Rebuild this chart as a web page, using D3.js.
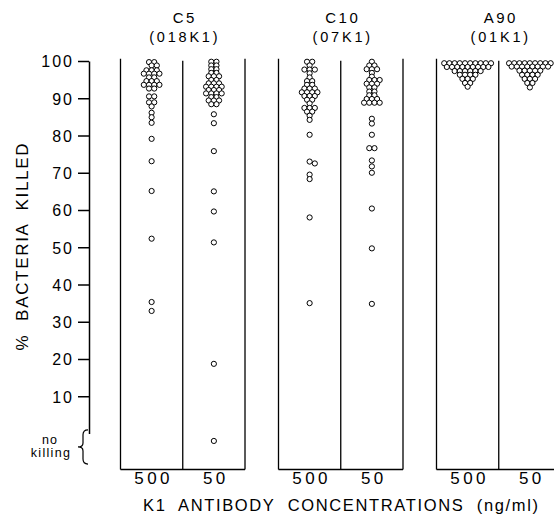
<!DOCTYPE html>
<html><head><meta charset="utf-8">
<script src="https://cdn.jsdelivr.net/npm/d3@7/dist/d3.min.js"></script>
<style>body{margin:0;background:#fff}svg{display:block}</style>
</head><body>
<svg id="chart" width="554" height="520"></svg>
<script>
// ---------- data ----------
const panels = ["C5", "C10", "A90"];
const strains = ["(018K1)", "(07K1)", "(01K1)"];
const doses = ["500", "50"];
const yTicks = [10, 20, 30, 40, 50, 60, 70, 80, 90, 100];
const NK = "no killing";
const xTitle = "K1  ANTIBODY  CONCENTRATIONS  (ng/ml)";
const yTitle = "%  BACTERIA  KILLED";

const c5_500 = [99.7,99.7, 98.8,98.8, 97.5,97.5,97.5, 96.6,96.6,96.6,96.6, 95.6,95.6,
  94.6,94.6,94.6, 93.6,93.6,93.6,93.6, 92.6,92.6, 90.5,90.5, 88.9,88.9, 87.8, 86.1,
  84.9, 83.4, 79.1, 73.1, 65.1, 52.3, 35.3, 32.9];
const c5_50 = [99.8,99.8, 98.8,98.8, 97.8,97.8, 96.8,96.8, 95.9,95.9,95.9, 94.9,94.9,
  94.0,94.0,94.0, 93.1,93.1,93.1,93.1, 92.2,92.2,92.2, 91.3,91.3,91.3,91.3, 90.3,90.3,
  89.4,89.4,89.4, 88.4,88.4, 85.7, 83.3, 75.8, 65.0, 59.6, 51.3, 18.7, NK];
const c10_500 = [99.8,99.8, 98.8, 97.7,97.7,97.7, 96.7, 95.6, 94.6,94.6, 93.6,93.6,
  92.6,92.6,92.6, 91.6,91.6,91.6,91.6, 90.6,90.6,90.6, 89.6,89.6, 88.6, 87.4,87.4,87.4,
  86.4,86.4, 85.3, 84.2, 80.2, 73.0, 72.5, 69.5, 68.3, 58.0, 35.0];
const c10_50 = [99.8, 98.8,98.8, 97.8,97.8,97.8, 96.8, 95.8, 94.9,94.9,94.9,
  93.9,93.9,93.9, 92.9,92.9, 91.8,91.8, 90.8,90.8, 89.8,89.8,89.8, 88.8,88.8,88.8,88.8,
  84.5, 83.2, 80.2, 76.6,76.6, 73.3, 71.7, 70.0, 60.4, 49.7, 34.8];
const a90_500 = [99.4,99.4,99.4,99.4,99.4,99.4,99.4,99.4,99.4,99.4,
  98.4,98.4,98.4,98.4,98.4,98.4,98.4,98.4,98.4, 97.3,97.3,97.3,97.3,97.3,97.3,
  96.3,96.3,96.3,96.3, 95.2,95.2,95.2, 94.1,94.1, 93.1];
const a90_50 = [99.4,99.4,99.4,99.4,99.4,99.4,99.4,99.4,99.4,
  98.5,98.5,98.5,98.5,98.5,98.5,98.5,98.5, 97.4,97.4,97.4,97.4,97.4,
  96.3,96.3,96.3,96.3, 95.2,95.2,95.2, 94.1,94.1, 92.9];

const series = [
  {panel: "C5", dose: "500", values: c5_500},
  {panel: "C5", dose: "50", values: c5_50},
  {panel: "C10", dose: "500", values: c10_500},
  {panel: "C10", dose: "50", values: c10_50},
  {panel: "A90", dose: "500", values: a90_500},
  {panel: "A90", dose: "50", values: a90_50}
];

// ---------- layout ----------
const FONT = "'Liberation Sans', Arial, sans-serif";
const svg = d3.select("#chart");
svg.append("rect").attr("width", 554).attr("height", 520).attr("fill", "#fff");

const y = d3.scaleLinear().domain([0, 100]).range([433.5, 61]);
const NK_LEVEL = -2;
const yv = v => v === NK ? y(NK_LEVEL) : y(v);
const frameTop = y(100.6), frameBottom = 469.5;

const xPanel = d3.scaleBand().domain(panels).range([120.5, 561]).paddingInner(0.212).paddingOuter(0);
const xDose = d3.scaleBand().domain(doses).range([0, xPanel.bandwidth()]);

// y axis
const axis = svg.append("g").attr("transform", "translate(89,0)")
  .call(d3.axisLeft(y).tickValues(yTicks).tickSize(11).tickSizeOuter(0).tickPadding(4));
axis.select(".domain").attr("stroke", "#000").attr("stroke-width", 1.5);
axis.selectAll(".tick line").attr("stroke", "#000").attr("stroke-width", 1.5);
axis.selectAll(".tick text").attr("font-family", FONT).attr("font-size", 16)
  .attr("letter-spacing", 2).attr("fill", "#000").attr("dy", "0.36em");

// y title
svg.append("text").attr("transform", `translate(28,247) rotate(-90)`)
  .attr("text-anchor", "middle").attr("font-family", FONT).attr("font-size", 17)
  .style("white-space", "pre").attr("textLength", 207).attr("lengthAdjust", "spacing")
  .text(yTitle);

// no killing label + brace
const bTop = y(1), bBot = y(-8.2), bMid = (bTop + bBot) / 2;
svg.append("path")
  .attr("d", `M88,${bTop} Q83,${bTop} 83,${bTop + 5} L83,${bMid - 4} Q83,${bMid} 78,${bMid} Q83,${bMid} 83,${bMid + 4} L83,${bBot - 5} Q83,${bBot} 88,${bBot}`)
  .attr("fill", "none").attr("stroke", "#000").attr("stroke-width", 1.2);
svg.append("text").attr("x", 50).attr("y", bMid - 2.5).attr("text-anchor", "middle")
  .attr("font-family", FONT).attr("font-size", 12.5).attr("letter-spacing", 1).text("no");
svg.append("text").attr("x", 51).attr("y", bMid + 10.5).attr("text-anchor", "middle")
  .attr("font-family", FONT).attr("font-size", 12.5).attr("letter-spacing", 1.3).text("killing");

// panels
panels.forEach((p, i) => {
  const x0 = xPanel(p), bw = xPanel.bandwidth(), g = svg.append("g");
  const xs = [x0, x0 + xDose.step(), x0 + bw];
  xs.forEach((xx, k) => g.append("line").attr("x1", xx).attr("x2", xx)
    .attr("y1", k === 1 ? frameTop + 2 : frameTop).attr("y2", frameBottom)
    .attr("stroke", "#000").attr("stroke-width", 1.3));
  g.append("line").attr("x1", x0).attr("x2", x0 + bw).attr("y1", frameBottom).attr("y2", frameBottom)
    .attr("stroke", "#000").attr("stroke-width", 1.5);
  const cx = x0 + bw / 2 + 2;
  g.append("text").attr("x", cx).attr("y", 23).attr("text-anchor", "middle")
    .attr("font-family", FONT).attr("font-size", 15).attr("letter-spacing", 2.5).text(p);
  g.append("text").attr("x", cx).attr("y", 42).attr("text-anchor", "middle")
    .attr("font-family", FONT).attr("font-size", 14.5).attr("letter-spacing", 2.8).text(strains[i]);
  doses.forEach(d => {
    g.append("text").attr("x", x0 + xDose(d) + xDose.bandwidth() / 2 + 2).attr("y", 483.5)
      .attr("text-anchor", "middle").attr("font-family", FONT).attr("font-size", 17)
      .attr("letter-spacing", 3.5).text(d);
  });
});

// x title
svg.append("text").attr("x", 143).attr("y", 511).attr("font-family", FONT).attr("font-size", 16.5)
  .style("white-space", "pre").attr("textLength", 395).attr("lengthAdjust", "spacing").text(xTitle);

// dot layout: identical values side by side, rows shifted to avoid heavy overlap
function layout(values, cx, s, minD) {
  const groups = d3.groups(values, v => v).sort((a, b) => yv(a[0]) - yv(b[0]));
  const placed = [];
  const shifts = [0];
  for (let k = 1; k <= 12; k++) shifts.push(k * s / 2, -k * s / 2);
  for (const [v, arr] of groups) {
    const py = yv(v), n = arr.length;
    const base = d3.range(n).map(i => (i - (n - 1) / 2) * s);
    let chosen = 0;
    for (const sh of shifts) {
      const ok = base.every(bx => placed.every(q => Math.hypot(q.x - (cx + bx + sh), q.y - py) >= minD));
      if (ok) { chosen = sh; break; }
    }
    base.forEach(bx => placed.push({x: cx + bx + chosen, y: py, v}));
  }
  return placed;
}

series.forEach(sr => {
  const cx = xPanel(sr.panel) + xDose(sr.dose) + xDose.bandwidth() / 2;
  const pts = layout(sr.values, cx, 5.2, 3.6);
  svg.append("g").selectAll("circle").data(pts).join("circle")
    .attr("cx", d => d.x).attr("cy", d => d.y).attr("r", 2.6)
    .attr("fill", "#fff").attr("stroke", "#000").attr("stroke-width", 1);
});
</script>
</body></html>
